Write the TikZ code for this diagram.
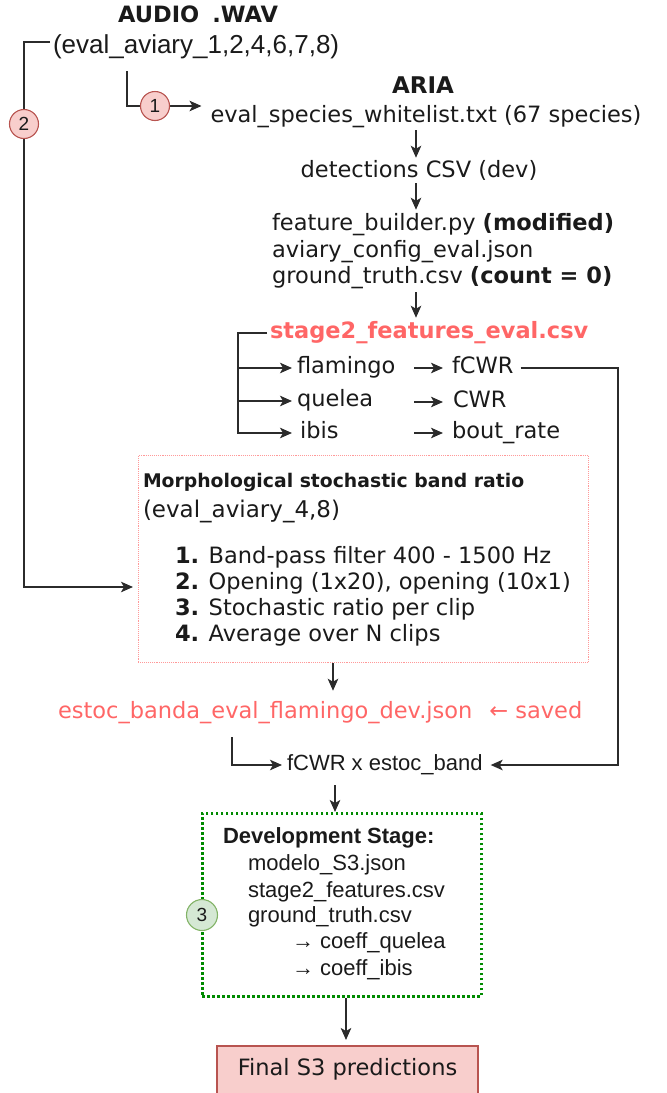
\documentclass[tikz,border=0pt]{standalone}
\usepackage{fontspec}
\usetikzlibrary{arrows.meta}
\newfontfamily\vfont{DejaVu Sans}
\newfontfamily\afont{Liberation Sans}
\definecolor{linec}{HTML}{2B2B2B}
\definecolor{salmon}{HTML}{FF6666}
\definecolor{pinkfill}{HTML}{F8CECC}
\definecolor{pinkline}{HTML}{B85450}
\definecolor{greenfill}{HTML}{D5E8D4}
\definecolor{greenline}{HTML}{82B366}
\definecolor{dotgreen}{HTML}{008A00}
\definecolor{boxred}{HTML}{FF9999}
\definecolor{ink}{HTML}{1A1A1A}
\begin{document}
\begin{tikzpicture}[x=1pt,y=-1pt,
  txt/.style={inner sep=0pt, outer sep=0pt, text height=16pt, text depth=4.5pt, text=ink},
  V/.style={txt, font=\vfont\fontsize{22.5}{27}\selectfont},
  VB/.style={txt, font=\vfont\bfseries\fontsize{22.5}{27}\selectfont},
  A/.style={txt, font=\afont\fontsize{22}{26}\selectfont},
  AB/.style={txt, font=\afont\bfseries\fontsize{22}{26}\selectfont},
  flow/.style={draw=linec, line width=1.7pt, -{Stealth[length=12pt,width=10.5pt,inset=3pt]}},
  badge/.style={circle, draw=pinkline, fill=pinkfill, line width=1.1pt, minimum size=29pt,
    inner sep=0pt, text=ink, font=\afont\fontsize{19}{21}\selectfont},
  gbadge/.style={badge, draw=greenline, fill=greenfill, minimum size=31pt}]
\useasboundingbox (0,0) rectangle (667,1093);

% ---------- input audio and species list ----------
\node[VB] (audio) at (198,17) {AUDIO\hspace{0.58em}.WAV};
\node[txt, font=\afont\fontsize{26}{30}\selectfont, anchor=west] (src) at (53,48) {(eval\_aviary\_1,2,4,6,7,8)};
\node[VB, font=\vfont\bfseries\fontsize{23}{27}\selectfont] (aria) at (423,88) {ARIA};
\node[V] (wl) at (426,117) {eval\_species\_whitelist.txt (67 species)};
\node[V] (det) at (419,172) {detections CSV (dev)};

% ---------- feature builder ----------
\node[V, anchor=west] (fb)  at (272,225) {feature\_builder.py \textbf{(modified)}};
\node[V, anchor=west] (cfg) at (272,252) {aviary\_config\_eval.json};
\node[V, anchor=west] (gt)  at (272,278) {ground\_truth.csv \textbf{(count = 0)}};
\node[VB, anchor=west, text=salmon] (s2) at (270,333) {stage2\_features\_eval.csv};

% ---------- species and their features ----------
\node[V, anchor=west] (flam) at (297,368) {flamingo};
\node[V, anchor=west] (quel) at (297,401) {quelea};
\node[V, anchor=west] (ibis) at (300,433) {ibis};
\node[V, anchor=west] (fcwr) at (452,368) {fCWR};
\node[V, anchor=west] (cwr)  at (453,402) {CWR};
\node[V, anchor=west] (bout) at (452,433) {bout\_rate};

% ---------- morphological band ratio ----------
\node[draw=boxred, densely dotted, line width=0.9pt, minimum width=450pt, minimum height=207pt,
  inner sep=0pt, anchor=north west] (morph) at (138,455) {};
\node[txt, font=\vfont\bfseries\fontsize{18.8}{22}\selectfont, anchor=west] (mh) at (143,482) {Morphological stochastic band ratio};
\node[V, font=\vfont\fontsize{23}{27}\selectfont, anchor=west] (msub) at (143,512) {(eval\_aviary\_4,8)};
\node[V, anchor=west] (m1) at (175,558) {\textbf{1.} Band-pass filter 400 - 1500 Hz};
\node[V, anchor=west] (m2) at (175,584) {\textbf{2.} Opening (1x20), opening (10x1)};
\node[V, anchor=west] (m3) at (175,610) {\textbf{3.} Stochastic ratio per clip};
\node[V, anchor=west] (m4) at (175,636) {\textbf{4.} Average over N clips};

\node[V, anchor=west, text=salmon] (estoc) at (58,713) {estoc\_banda\_eval\_flamingo\_dev.json\hspace{0.75em}← saved};
\node[A, anchor=west] (prod) at (287,765) {fCWR x estoc\_band};

% ---------- development stage ----------
\node[draw=dotgreen, line width=2.8pt, dash pattern=on 2.5pt off 2.5pt, minimum width=279pt,
  minimum height=183pt, inner sep=0pt, anchor=north west] (dev) at (201,812) {};
\node[AB, anchor=west] (devh) at (223,838) {Development Stage:};
\node[A, anchor=west] (d1) at (248,865) {modelo\_S3.json};
\node[A, anchor=west] (d2) at (248,892) {stage2\_features.csv};
\node[A, anchor=west] (d3) at (248,917) {ground\_truth.csv};
\node[A, anchor=west] (d4) at (292,943) {→ coeff\_quelea};
\node[A, anchor=west] (d5) at (292,970) {→ coeff\_ibis};

\node[draw=pinkline, fill=pinkfill, line width=1.3pt, minimum width=261pt, minimum height=48pt,
  inner sep=0pt, V] (final) at (347.5,1070) {Final S3 predictions};

% ---------- helper columns ----------
\coordinate (c1) at (127,0);
\coordinate (l2) at (24,587);
\coordinate (mx) at (416,0);
\coordinate (brk) at (238,433);
\coordinate (rt) at (618,765);
\coordinate (ax) at (333,0);
\coordinate (ex) at (232,0);
\coordinate (bx) at (335,0);
\coordinate (fx) at (346,0);

% ---------- connectors ----------
\draw[flow] ([xshift=-3pt,yshift=6pt]src.west) -| (l2) -- ([xshift=-5pt]morph.west |- l2);
\draw[flow] ([yshift=-13pt]src.south -| c1) |- ([xshift=-9pt,yshift=11pt]wl.west);
\draw[flow] ([yshift=-3pt]wl.south -| mx) -- ([yshift=4pt]det.north -| mx);
\draw[flow] ([yshift=-1pt]det.south -| mx) -- ([yshift=5pt]fb.north -| mx);
\draw[flow] ([yshift=-4pt]gt.south -| mx) -- ([yshift=5pt]s2.north -| mx);

\draw[flow] ([xshift=-3pt]s2.west) -| (brk) -- ([xshift=-8pt]ibis.west);
\draw[flow] (brk |- flam.west) -- ([xshift=-5pt]flam.west);
\draw[flow] (brk |- quel.west) -- ([xshift=-5pt]quel.west);

\draw[flow] ([xshift=-38pt]fcwr.west) -- ([xshift=-9pt]fcwr.west);
\draw[flow] ([xshift=-39pt]cwr.west) -- ([xshift=-10pt]cwr.west);
\draw[flow] ([xshift=-38pt]bout.west) -- ([xshift=-9pt]bout.west);

\draw[flow] ([xshift=7pt]fcwr.east) -| (rt) -- ([xshift=8pt]prod.east);
\draw[flow] (morph.south -| ax) -- ([yshift=12pt]estoc.north -| ax);
\draw[flow] ([yshift=-14pt]estoc.south -| ex) |- ([xshift=-5pt]prod.west);
\draw[flow] ([yshift=-10pt]prod.south -| bx) -- (dev.north -| bx);
\draw[flow] (dev.south -| fx) -- ([yshift=6pt]final.north -| fx);

% ---------- step badges ----------
\node[badge] (b1) at (155,106) {1};
\node[badge] (b2) at (24,124) {2};
\node[gbadge] (b3) at (202,915) {3};
\end{tikzpicture}
\end{document}
